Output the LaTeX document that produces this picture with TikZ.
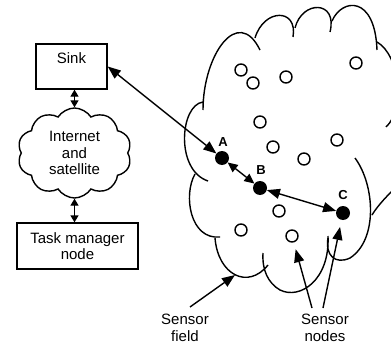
\documentclass[tikz,border=0pt]{standalone}
\usepackage{fontspec}
\setmainfont{Liberation Sans}
\usetikzlibrary{arrows.meta,shapes.symbols}
\begin{document}
\begin{tikzpicture}[x=1pt,y=-1pt,
  txt/.style={font=\fontsize{15}{16.7}\selectfont, align=center, inner sep=0pt},
  box/.style={draw, line width=1.4pt, inner sep=0pt},
  sensor/.style={circle, draw, line width=1.4pt, minimum size=12pt, inner sep=0pt},
  active/.style={circle, fill=black, minimum size=14pt, inner sep=0pt},
  lab/.style={font=\fontsize{13}{13}\selectfont\bfseries, inner sep=0pt},
  big/.style={-{Triangle[length=13pt,width=10pt]}, line width=1.4pt},
  bigd/.style={{Triangle[length=13pt,width=10pt]}-{Triangle[length=13pt,width=10pt]}, line width=1.4pt},
  medd/.style={{Triangle[length=10pt,width=9pt]}-{Triangle[length=10pt,width=9pt]}, line width=1.4pt},
  smalld/.style={{Triangle[length=7pt,width=8pt]}-{Triangle[length=7pt,width=8pt]}, line width=1.4pt},
  edge/.style={line width=1.4pt},
]
\useasboundingbox (0,0) rectangle (391,345);
% left side
\node[box, minimum width=71pt, minimum height=45pt] (sink) at (71.5,66.5) {};
\node[txt] (sinktxt) at (71.5,58) {Sink};
\node[draw, cloud, cloud puffs=10, cloud puff arc=115, aspect=1.3, minimum width=114pt, minimum height=90pt, line width=1.4pt, txt] (net) at (74.5,153) {Internet\\and\\satellite};
\node[box, txt, minimum width=121pt, minimum height=46pt] (task) at (77.5,246) {Task manager\\node};
\draw[smalld] (sink.south -| net.north) -- (net.north);
\draw[smalld] (net.south) -- (net.south |- task.north);
% sensor field outline
\begin{scope}
\clip (0,0) rectangle (391,345);
\draw[edge] (203,110) .. controls (203,55) and (238,5) .. (260,50);
\draw[edge] (255,38) .. controls (264,8) and (298,8) .. (293,37);
\draw[edge] (295,28) .. controls (302,0) and (338,0) .. (330,32);
\draw[edge] (332,21) .. controls (342,-2) and (375,-5) .. (377,50);
\draw[edge] (377,42) .. controls (400,55) and (405,110) .. (386,127);
\draw[edge] (372,215) .. controls (378,205) and (388,195) .. (398,185);
\draw[edge] (355,158) .. controls (375,185) and (378,240) .. (350,258) .. controls (335,265) and (325,255) .. (328,238);
\draw[edge] (328,236) .. controls (330,280) and (300,300) .. (280,290) .. controls (268,283) and (262,270) .. (263,253);
\draw[edge] (215,238) .. controls (218,275) and (248,290) .. (268,265);
\draw[edge] (195,174) .. controls (183,195) and (190,240) .. (220,237);
\draw[edge] (203,102) .. controls (180,105) and (175,170) .. (208,181);
\end{scope}
% sensor nodes
\node[sensor] (s1) at (241,70) {};
\node[sensor] (s2) at (253,83) {};
\node[sensor] (s3) at (286,77) {};
\node[sensor] (s4) at (356,63) {};
\node[sensor] (s5) at (260,122) {};
\node[sensor] (s6) at (273,147) {};
\node[sensor] (s7) at (337,140) {};
\node[sensor] (s8) at (304,159) {};
\node[sensor] (s9) at (279,211) {};
\node[sensor] (s10) at (241,230) {};
\node[sensor] (s11) at (292,236) {};
\node[active] (A) at (222,158) {};
\node[active] (B) at (260,188) {};
\node[active] (C) at (343,213) {};
\node[lab] (la) at (223,142) {A};
\node[lab] (lb) at (261,170) {B};
\node[lab] (lc) at (343,195) {C};
% connectors
\draw[bigd] (A) -- (sink.east);
\draw[medd] (A) -- (B);
\draw[bigd] (B) -- (C);
% bottom labels
\node[txt] (sf) at (185,328) {Sensor\\field};
\node[txt] (sn) at (325,328) {Sensor\\nodes};
\coordinate (sfa) at (190,307);
\coordinate (sft) at (235,275);
\draw[big] (sfa) -- (sft);
\coordinate (sn1) at (312,308);
\coordinate (sn2) at (323,308);
\draw[big, shorten >=7pt] (sn1) -- (s11);
\draw[big, shorten >=7pt] (sn2) -- (C);
\end{tikzpicture}
\end{document}
